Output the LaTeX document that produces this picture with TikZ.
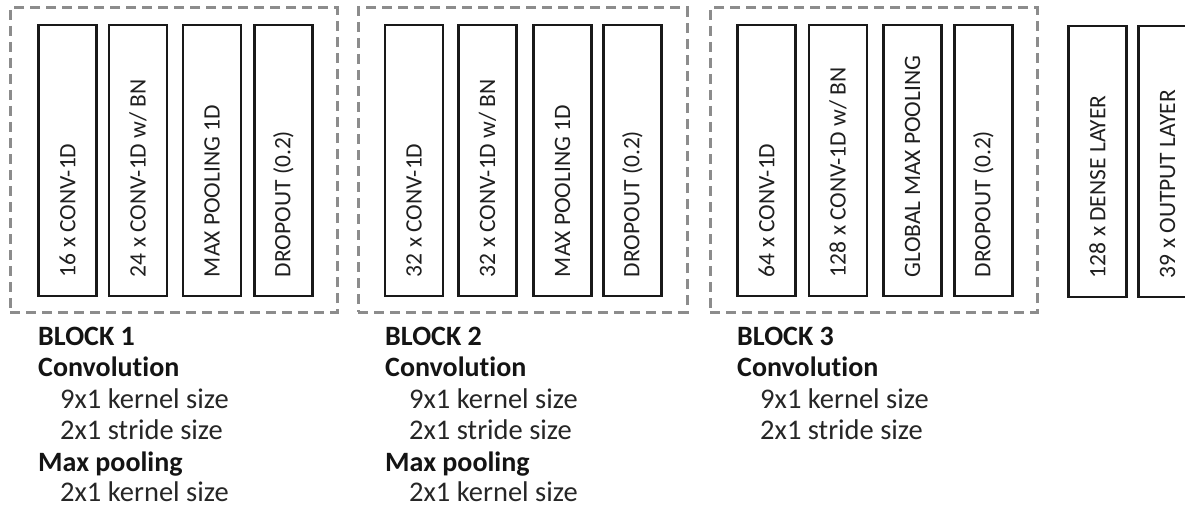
\documentclass[tikz,border=0pt]{standalone}
\usepackage{fontspec}
\setmainfont{Carlito}[Ligatures={NoCommon}]
\begin{document}
\begin{tikzpicture}[x=1pt,y=-1pt,
  layer/.style={draw=black!90, line width=2.4pt, minimum width=58pt, minimum height=271pt, inner sep=0pt},
  grp/.style={draw=gray!90, dash pattern=on 10pt off 6pt, line width=3pt, inner sep=0pt},
  lbl/.style={rotate=90, anchor=west, inner sep=0pt, text=black!88, font=\fontsize{23.5}{26}\selectfont},
  head/.style={anchor=base west, inner sep=0pt, text=black!92, font=\fontsize{28}{32}\selectfont\bfseries},
  sub/.style={anchor=base west, inner sep=0pt, text=black!85, font=\fontsize{28.5}{32}\selectfont},
]
\useasboundingbox (0,0) rectangle (1185,508);
\clip (0,0) rectangle (1185,508);

% group boxes
\node[grp, minimum width=327pt, minimum height=304pt] (g1) at (173.5,160) {};
\node[grp, minimum width=329pt, minimum height=304pt] (g2) at (522.5,160) {};
\node[grp, minimum width=327pt, minimum height=304pt] (g3) at (873.5,160) {};

% block 1
\node[layer] (a1) at (67.5,160.5) {};
\node[layer] (a2) at (138,160.5) {};
\node[layer] (a3) at (212,160.5) {};
\node[layer] (a4) at (283.5,160.5) {};
\node[lbl] at ([yshift=20pt]a1.south) {16 x CONV-1D};
\node[lbl] at ([yshift=20pt]a2.south) {24 x CONV-1D w/ BN};
\node[lbl] at ([yshift=20pt]a3.south) {MAX POOLING 1D};
\node[lbl] at ([yshift=20pt]a4.south) {DROPOUT (0.2)};

% block 2
\node[layer] (b1) at (414,160.5) {};
\node[layer] (b2) at (487.5,160.5) {};
\node[layer] (b3) at (562.5,160.5) {};
\node[layer] (b4) at (632.5,160.5) {};
\node[lbl] at ([yshift=20pt]b1.south) {32 x CONV-1D};
\node[lbl] at ([yshift=20pt]b2.south) {32 x CONV-1D w/ BN};
\node[lbl] at ([yshift=20pt]b3.south) {MAX POOLING 1D};
\node[lbl] at ([yshift=20pt]b4.south) {DROPOUT (0.2)};

% block 3
\node[layer] (c1) at (766.5,160.5) {};
\node[layer] (c2) at (838,160.5) {};
\node[layer] (c3) at (912.5,160.5) {};
\node[layer] (c4) at (983.5,160.5) {};
\node[lbl] at ([yshift=20pt]c1.south) {64 x CONV-1D};
\node[lbl] at ([yshift=20pt]c2.south) {128 x CONV-1D w/ BN};
\node[lbl] at ([yshift=20pt]c3.south) {GLOBAL MAX POOLING};
\node[lbl] at ([yshift=20pt]c4.south) {DROPOUT (0.2)};

% dense + output
\node[layer] (d1) at (1097.5,161.5) {};
\node[layer] (d2) at (1167.5,161.5) {};
\node[lbl] at ([yshift=20pt]d1.south) {128 x DENSE LAYER};
\node[lbl] at ([yshift=20pt]d2.south) {39 x OUTPUT LAYER};

% captions block 1
\node[head] (t1a) at (38,345) {BLOCK 1};
\node[head] (t1b) at (38,376.5) {Convolution};
\node[sub]  (t1c) at (60,408) {9x1 kernel size};
\node[sub]  (t1d) at (60,439.5) {2x1 stride size};
\node[head] (t1e) at (38,471) {Max pooling};
\node[sub]  (t1f) at (60,501.5) {2x1 kernel size};

% captions block 2
\node[head] (t2a) at (385,345) {BLOCK 2};
\node[head] (t2b) at (385,376.5) {Convolution};
\node[sub]  (t2c) at (409,408) {9x1 kernel size};
\node[sub]  (t2d) at (409,439.5) {2x1 stride size};
\node[head] (t2e) at (385,471) {Max pooling};
\node[sub]  (t2f) at (409,501.5) {2x1 kernel size};

% captions block 3
\node[head] (t3a) at (737,345) {BLOCK 3};
\node[head] (t3b) at (737,376.5) {Convolution};
\node[sub]  (t3c) at (760,408) {9x1 kernel size};
\node[sub]  (t3d) at (760,439.5) {2x1 stride size};
\end{tikzpicture}
\end{document}
